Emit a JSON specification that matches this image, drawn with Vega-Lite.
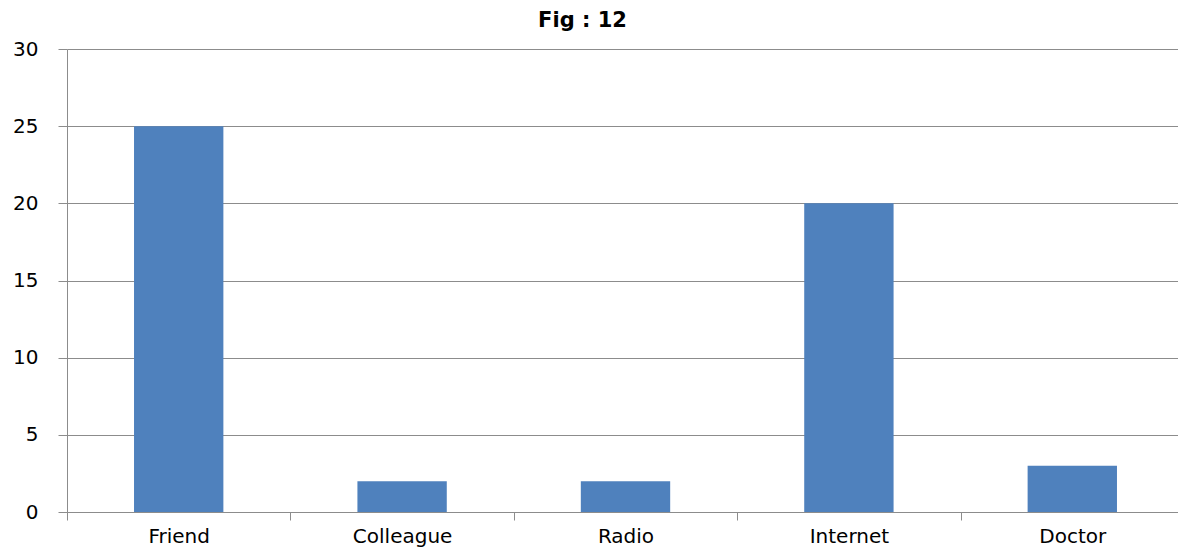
{
  "$schema": "https://vega.github.io/schema/vega-lite/v6.json",
  "autosize": "none",
  "width": 1117,
  "height": 463,
  "padding": {"left": 67, "top": 49, "right": 0, "bottom": 35},
  "background": "white",
  "title": {"text": "Fig : 12", "font": "DejaVu Sans", "fontSize": 21, "fontWeight": "bold", "color": "#000000", "anchor": "middle", "dx": -43, "offset": 8},
  "data": {"values": [
    {"source": "Friend", "count": 25},
    {"source": "Colleague", "count": 2},
    {"source": "Radio", "count": 2},
    {"source": "Internet", "count": 20},
    {"source": "Doctor", "count": 3}
  ]},
  "mark": {"type": "bar", "color": "#4F81BD", "width": {"band": 0.4}},
  "encoding": {
    "x": {"field": "source", "type": "nominal", "sort": null,
      "scale": {"paddingInner": 0, "paddingOuter": 0},
      "axis": {"title": null, "labelAngle": 0, "labelFont": "DejaVu Sans", "labelFontSize": 20, "labelColor": "#000000", "labelPadding": 6, "tickBand": "extent", "tickSize": 8, "tickColor": "#8c8c8c", "domainColor": "#8c8c8c", "grid": false}},
    "y": {"field": "count", "type": "quantitative",
      "scale": {"domain": [0, 30], "nice": false},
      "axis": {"title": null, "values": [0, 5, 10, 15, 20, 25, 30], "labelFont": "DejaVu Sans", "labelFontSize": 20, "labelColor": "#000000", "labelPadding": 20, "tickSize": 9, "tickColor": "#8c8c8c", "domainColor": "#8c8c8c", "gridColor": "#8c8c8c", "gridOpacity": 1}}
  },
  "config": {"view": {"stroke": null}}
}
